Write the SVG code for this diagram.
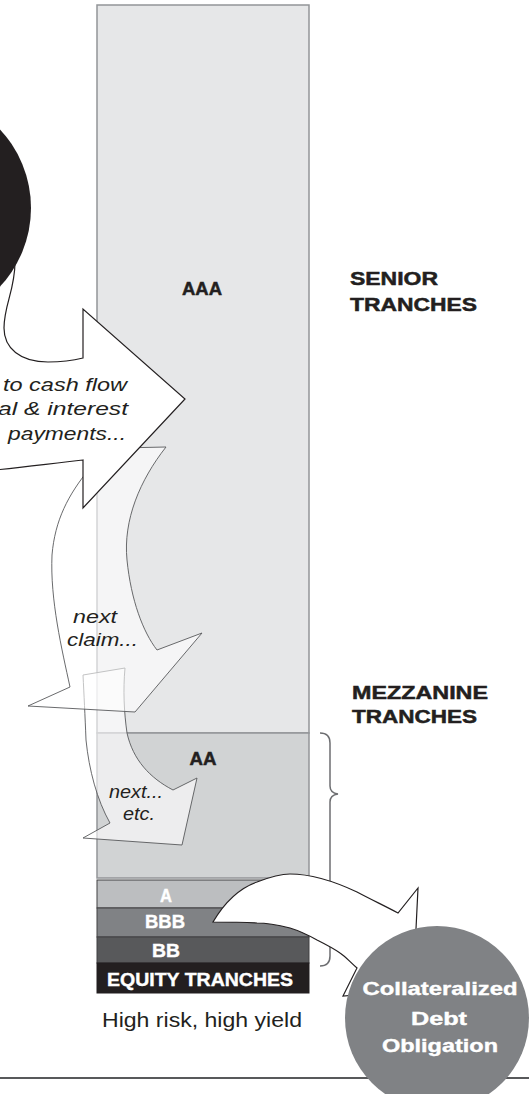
<svg xmlns="http://www.w3.org/2000/svg" width="529" height="1094" viewBox="0 0 529 1094">
<style>
.lbl{font-family:"Liberation Sans",Arial,sans-serif;font-weight:bold;font-size:19px;fill:#231f20;stroke:#231f20;stroke-width:0.5}
.wlbl{font-family:"Liberation Sans",Arial,sans-serif;font-weight:bold;font-size:19px;fill:#ffffff;stroke:#ffffff;stroke-width:0.4}
.it{font-family:"Liberation Sans",Arial,sans-serif;font-style:italic;font-size:18px;fill:#231f20}
.reg{font-family:"Liberation Sans",Arial,sans-serif;font-size:20px;fill:#231f20}
.solid{fill:#ffffff;stroke:#231f20;stroke-width:1.2;stroke-linejoin:miter}
.ghost{fill:#ffffff;fill-opacity:0.6;stroke:#58595b;stroke-width:0.9}
</style>
<rect width="529" height="1094" fill="#ffffff"/>
<line x1="0" y1="1078" x2="529" y2="1078" stroke="#58595b" stroke-width="2"/>
<g id="tranche-column">
  <rect id="aaa" x="97" y="5" width="212" height="728" fill="#e6e7e8" stroke="#939598" stroke-width="1.5"/>
  <rect id="aa" x="97" y="733" width="212" height="145" fill="#d1d3d4" stroke="#939598" stroke-width="1.5"/>
  <rect id="a" x="97" y="880" width="212" height="28" fill="#bcbec0" stroke="#414042" stroke-width="1"/>
  <rect id="bbb" x="97" y="908" width="212" height="29" fill="#808285" stroke="#414042" stroke-width="1"/>
  <rect id="bb" x="97" y="937" width="212" height="26" fill="#58595b" stroke="#414042" stroke-width="1"/>
  <rect id="equity" x="97" y="963" width="212" height="30" fill="#231f20" stroke="#231f20" stroke-width="1"/>
</g>
<g id="brace">
  <path d="M320,733 Q330,733 330,743 L330,786 Q330,793 338,794 Q330,795 330,802 L330,956 Q330,966 320,966" fill="none" stroke="#6d6e71" stroke-width="1.5"/>
</g>
<g id="connectors">
  <path id="arrow-etc" class="ghost" d="M83,675 L125,668 C123,690 124,712 127,733 C133,760 150,778 173,790 L197,778 L182,845 L83,838 L110,823 C97,800 89,770 86,740 C85,715 84,695 83,675 Z"/>
  <path id="arrow-next" class="ghost" d="M120,448 L166,447 C140,480 123,520 127,560 C131,600 143,632 157,650 L202,633 L135,712 L28,706 L70,687 C62,650 50,600 52,555 C55,520 68,495 90,468 Z"/>
  <path id="arrow-senior" class="solid" d="M15,262 C15,290 4,305 4,328 C4,348 20,362 48,362 C62,362 75,360 83,358 L83,309 L185,399 L83,508 L83,460 C55,463 25,467 -5,470 L-20,470 L-20,262 Z"/>
  <path id="arrow-cdo" class="solid" d="M213,922 C226,900 240,888 257,882 C270,877 280,874 290,874 C315,874 340,884 357,892 C372,900 385,906 398,913 L418,888 L413,990 L343,996 L357,968 C350,962 346,957 340,953 C333,948 325,944 317,940 C308,935 300,931 290,928 C278,925 268,923 257,923 C240,922 225,922 213,922 Z"/>
</g>
<g id="pool-circle">
  <circle cx="-84" cy="208" r="115" fill="#231f20"/>
</g>
<g id="cdo">
  <circle cx="437" cy="1018" r="92" fill="#808285"/>
  <text class="wlbl" x="440" y="995" font-size="20" text-anchor="middle" textLength="155" lengthAdjust="spacingAndGlyphs">Collateralized</text>
  <text class="wlbl" x="439" y="1025" font-size="20" text-anchor="middle" textLength="56" lengthAdjust="spacingAndGlyphs">Debt</text>
  <text class="wlbl" x="440" y="1052" font-size="20" text-anchor="middle" textLength="116" lengthAdjust="spacingAndGlyphs">Obligation</text>
</g>
<g id="tranche-labels">
  <text class="lbl" x="202" y="295" text-anchor="middle" textLength="40" lengthAdjust="spacingAndGlyphs">AAA</text>
  <text class="lbl" x="203" y="765" text-anchor="middle" textLength="27" lengthAdjust="spacingAndGlyphs">AA</text>
  <text class="wlbl" x="166" y="902" text-anchor="middle" textLength="12" lengthAdjust="spacingAndGlyphs">A</text>
  <text class="wlbl" x="165" y="928" text-anchor="middle" textLength="40" lengthAdjust="spacingAndGlyphs">BBB</text>
  <text class="wlbl" x="166" y="957" text-anchor="middle" textLength="28" lengthAdjust="spacingAndGlyphs">BB</text>
  <text class="wlbl" x="200" y="986" font-size="20" text-anchor="middle" textLength="186" lengthAdjust="spacingAndGlyphs">EQUITY TRANCHES</text>
  <text class="reg" x="202" y="1027" text-anchor="middle" textLength="200" lengthAdjust="spacingAndGlyphs">High risk, high yield</text>
</g>
<g id="group-labels">
  <text class="lbl" x="350" y="285" textLength="88" lengthAdjust="spacingAndGlyphs">SENIOR</text>
  <text class="lbl" x="350" y="311" textLength="127" lengthAdjust="spacingAndGlyphs">TRANCHES</text>
  <text class="lbl" x="352" y="699" textLength="136" lengthAdjust="spacingAndGlyphs">MEZZANINE</text>
  <text class="lbl" x="352" y="723" textLength="125" lengthAdjust="spacingAndGlyphs">TRANCHES</text>
</g>
<g id="flow-labels">
  <text class="it" x="127" y="391" text-anchor="end" textLength="124" lengthAdjust="spacingAndGlyphs">to cash flow</text>
  <text class="it" x="128" y="415" text-anchor="end" textLength="130" lengthAdjust="spacingAndGlyphs">al &amp; interest</text>
  <text class="it" x="126" y="440" text-anchor="end" textLength="118" lengthAdjust="spacingAndGlyphs">payments...</text>
  <text class="it" x="73" y="623" font-size="17" textLength="44" lengthAdjust="spacingAndGlyphs">next</text>
  <text class="it" x="67" y="646" font-size="17" textLength="71" lengthAdjust="spacingAndGlyphs">claim...</text>
  <text class="it" x="109" y="798" font-size="17" textLength="54" lengthAdjust="spacingAndGlyphs">next...</text>
  <text class="it" x="123" y="820" font-size="17" textLength="32" lengthAdjust="spacingAndGlyphs">etc.</text>
</g>
</svg>
